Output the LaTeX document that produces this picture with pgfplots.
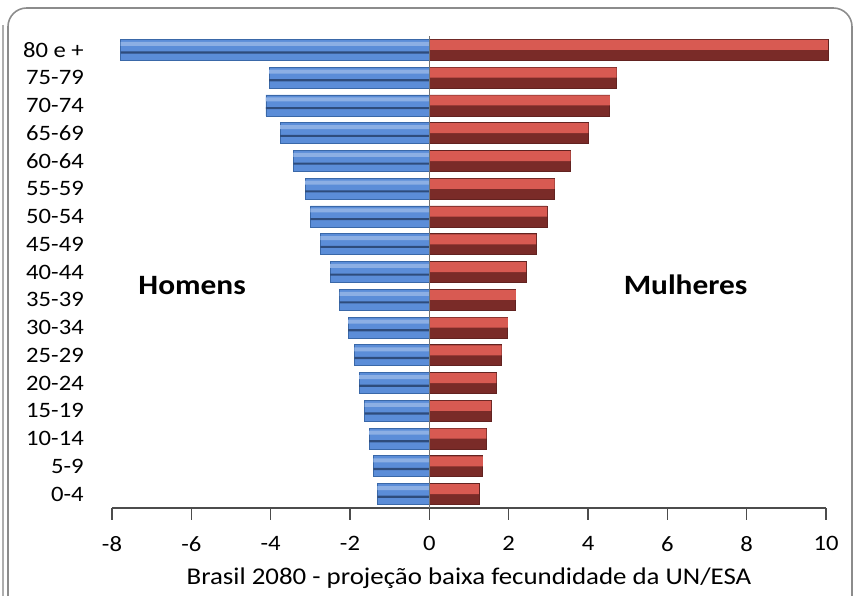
\documentclass[border=0pt]{standalone}
\usepackage{pgfplots}
\pgfplotsset{compat=1.18}
\usepackage{pgfplotstable}
\usepackage{fontspec}
\setmainfont[FakeStretch=1.12]{Carlito}
\definecolor{bmain}{HTML}{5B8DD8}
\definecolor{bedge}{HTML}{3A68A8}
\definecolor{binner}{HTML}{2E4C7C}
\definecolor{rlight}{HTML}{D85A52}
\definecolor{rdark}{HTML}{7A2B28}
\definecolor{frame}{HTML}{8C8C8C}
\pgfplotstableread{
idx men women
0 -1.31 1.25
1 -1.41 1.35
2 -1.52 1.44
3 -1.63 1.56
4 -1.77 1.69
5 -1.89 1.82
6 -2.05 1.98
7 -2.26 2.18
8 -2.50 2.44
9 -2.75 2.69
10 -3.00 2.97
11 -3.13 3.16
12 -3.43 3.56
13 -3.76 4.01
14 -4.12 4.55
15 -4.04 4.72
16 -7.78 10.05
}\pyr
\begin{document}
\begin{tikzpicture}
\useasboundingbox (0pt,0pt) rectangle (645.75pt,447pt);
\draw[frame, line width=1.2pt, rounded corners=14pt] (6pt,-22pt) -- (6pt,441pt) -- (639pt,441pt) -- (639pt,-22pt);
\draw[frame!70, line width=1pt] (2.25pt,428pt) -- (2.25pt,-4pt);
\begin{axis}[
  at={(84pt,66pt)}, anchor=south west,
  scale only axis, width=535.5pt, height=354pt,
  xmin=-8, xmax=10, ymin=-0.5, ymax=16.5,
  xtick={-8,-6,...,10},
  ytick={0,...,16},
  yticklabels={0-4,5-9,10-14,15-19,20-24,25-29,30-34,35-39,40-44,45-49,50-54,55-59,60-64,65-69,70-74,75-79,80 e +},
  axis x line*=bottom, axis y line*=left,
  y axis line style={draw=none},
  x axis line style={black!70, line width=1pt, -},
  xtick style={black!70, line width=1pt},
  tick align=outside, major tick length=9pt,
  /pgf/number format/assume math mode=true,
  xticklabel style={font=\fontsize{16.5}{18}\selectfont, inner sep=0pt, anchor=north, yshift=-12pt},
  yticklabel style={font=\fontsize{16.5}{18}\selectfont, inner sep=0pt, anchor=east, xshift=-12pt},
  ytick style={draw=none},
  xbar, bar shift=0pt,
  clip=false,
  xlabel={Brasil 2080 - projeção baixa fecundidade da UN/ESA},
  xlabel style={font=\fontsize{18}{20}\selectfont, at={(axis description cs:0.5,0)}, anchor=center, yshift=-52.5pt},
]
\addplot[xbar, bar width=15.75pt, fill=bmain, draw=bedge, line width=0.6pt] table[x=men, y=idx] {\pyr};
\addplot[xbar, bar width=3pt, bar shift=4.5pt, fill=bmain!70!white, draw=none] table[x=men, y=idx] {\pyr};
\addplot[xbar, bar width=1.6pt, bar shift=-2pt, fill=binner, draw=none] table[x=men, y=idx] {\pyr};
\addplot[xbar, bar width=15.75pt, fill=rdark, draw=rdark!80!black, line width=0.6pt] table[x=women, y=idx] {\pyr};
\addplot[xbar, bar width=7.5pt, bar shift=3.7pt, fill=rlight, draw=none] table[x=women, y=idx] {\pyr};
\draw[black!55, line width=0.9pt] (axis cs:0,-0.5) -- (axis cs:0,16.5);
\node[font=\bfseries\fontsize{21}{24}\selectfont] at (axis cs:-5.98,7.53) {Homens};
\node[font=\bfseries\fontsize{21}{24}\selectfont] at (axis cs:6.46,7.53) {Mulheres};
\end{axis}
\end{tikzpicture}
\end{document}
